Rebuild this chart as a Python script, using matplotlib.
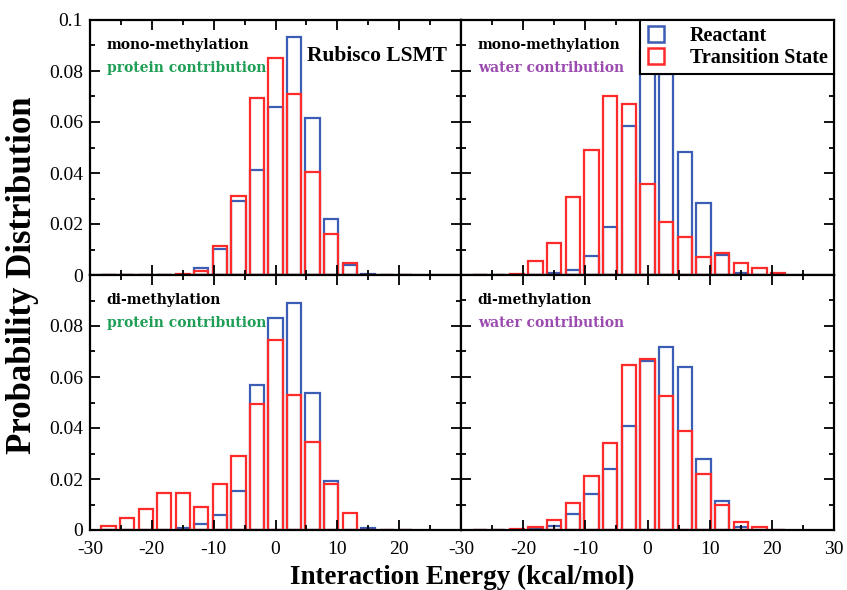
import numpy as np
import matplotlib
matplotlib.use('Agg')
import matplotlib.pyplot as plt
from matplotlib.ticker import MultipleLocator
from matplotlib.lines import Line2D

# bin centres (kcal/mol)
bins = np.arange(-27, 22, 3)

# probability per bin (same bins for all panels)
mono_prot_R  = [0, 0, 0, 0, 0, 0.0026, 0.0103, 0.029, 0.0412, 0.066, 0.0935, 0.0617, 0.0221, 0.0038, 0.0004, 0, 0]
mono_prot_TS = [0, 0, 0, 0, 0.0005, 0.0017, 0.0115, 0.0311, 0.0693, 0.085, 0.0709, 0.0404, 0.0161, 0.0046, 0, 0, 0]
mono_wat_R   = [0, 0, 0, 0, 0.0007, 0.002, 0.0075, 0.019, 0.0586, 0.088, 0.079, 0.0484, 0.0281, 0.0077, 0.0007, 0, 0]
mono_wat_TS  = [0, 0, 0.0005, 0.0056, 0.0127, 0.0307, 0.049, 0.0702, 0.0669, 0.0356, 0.0207, 0.015, 0.0072, 0.0088, 0.0046, 0.0026, 0.0007]
di_prot_R    = [0, 0, 0, 0, 0.0007, 0.0024, 0.0059, 0.0154, 0.0569, 0.0833, 0.0889, 0.0536, 0.0193, 0, 0.0007, 0, 0]
di_prot_TS   = [0.0016, 0.0046, 0.0081, 0.0144, 0.0144, 0.0092, 0.0179, 0.029, 0.0494, 0.0745, 0.0529, 0.0346, 0.0179, 0.0065, 0, 0, 0]
di_wat_R     = [0, 0, 0, 0.0008, 0.0017, 0.0063, 0.0141, 0.0239, 0.0409, 0.0661, 0.0716, 0.064, 0.0278, 0.0115, 0.0013, 0, 0]
di_wat_TS    = [0, 0, 0.0004, 0.0013, 0.0039, 0.0106, 0.0213, 0.034, 0.0648, 0.0671, 0.0524, 0.0387, 0.022, 0.0098, 0.003, 0.001, 0]

xticks_left = [-30, -20, -10, 0, 10, 20]
xticks_right = [-30, -20, -10, 0, 10, 20, 30]
yticks_top = [0, 0.02, 0.04, 0.06, 0.08, 0.1]
yticks_bot = [0, 0.02, 0.04, 0.06, 0.08]

blue = '#3c5db5'
red = '#ff2a2a'
green = '#1f9e55'
purple = '#9b4bb0'

plt.rcParams['font.family'] = ['Liberation Serif', 'DejaVu Serif']
plt.rcParams['axes.unicode_minus'] = False

fig = plt.figure(figsize=(8.47, 5.9), dpi=100)
L, M, R = 90/847, 461/847, 834/847
B, C, T = 1-530/590, 1-275/590, 1-20/590
axes = [[fig.add_axes([L, C, M-L, T-C]), fig.add_axes([M, C, R-M, T-C])],
        [fig.add_axes([L, B, M-L, C-B]), fig.add_axes([M, B, R-M, C-B])]]

panels = [[(mono_prot_R, mono_prot_TS, 'mono-methylation', 'protein contribution', green),
           (mono_wat_R, mono_wat_TS, 'mono-methylation', 'water contribution', purple)],
          [(di_prot_R, di_prot_TS, 'di-methylation', 'protein contribution', green),
           (di_wat_R, di_wat_TS, 'di-methylation', 'water contribution', purple)]]

for i in range(2):
    for j in range(2):
        ax = axes[i][j]
        rv, tv, t1, t2, col = panels[i][j]
        ax.bar(bins, rv, width=2.3, facecolor='none', edgecolor=blue, linewidth=1.6)
        ax.bar(bins, tv, width=2.3, facecolor='none', edgecolor=red, linewidth=1.6)
        ax.set_xlim(-30, 30)
        ax.set_ylim(0, 0.1)
        ax.xaxis.set_major_locator(MultipleLocator(10))
        ax.xaxis.set_minor_locator(MultipleLocator(5))
        ax.yaxis.set_major_locator(MultipleLocator(0.02))
        ax.yaxis.set_minor_locator(MultipleLocator(0.01))
        ax.tick_params(which='both', direction='in', top=True, right=True,
                       labelsize=14, width=1.3, pad=5)
        ax.tick_params(axis='x', pad=8)
        ax.tick_params(which='major', length=7)
        ax.tick_params(which='minor', length=3.5)
        for s in ax.spines.values():
            s.set_linewidth(1.6)
        if i == 0:
            ax.tick_params(labelbottom=False)
        else:
            xt = xticks_left if j == 0 else xticks_right
            ax.set_xticks(xt, minor=False)
            ax.set_xticklabels([str(v) for v in xt])
            ax.set_xticks(np.arange(-25, 30, 10), minor=True)
            # keep the tick mark at 30 on the left panel without its label
            if j == 0:
                ax.set_xticks(list(ax.get_xticks(minor=True)) + [30], minor=True)
        if j == 1:
            ax.tick_params(labelleft=False)
        else:
            yt = yticks_top if i == 0 else yticks_bot
            ax.set_yticks(yt)
            ax.set_yticklabels(['0'] + [('%g' % v) for v in yt[1:]])
            if i == 1:
                ax.set_yticks([0.01, 0.03, 0.05, 0.07, 0.09, 0.1], minor=True)
        ax.text(0.045, 0.902, t1, transform=ax.transAxes, fontsize=10,
                fontweight='bold', family='DejaVu Serif', color='black', va='center')
        ax.text(0.045, 0.812, t2, transform=ax.transAxes, fontsize=10,
                fontweight='bold', family='DejaVu Serif', color=col, va='center')

axes[0][0].text(0.585, 0.86, 'Rubisco LSMT', transform=axes[0][0].transAxes,
                fontsize=15.5, fontweight='bold', color='black', va='center')

handles = [Line2D([], [], marker='s', markersize=11, markerfacecolor='none',
                  markeredgecolor=blue, markeredgewidth=1.8, linestyle='none'),
           Line2D([], [], marker='s', markersize=11, markerfacecolor='none',
                  markeredgecolor=red, markeredgewidth=1.8, linestyle='none')]
leg = axes[0][1].legend(handles, ['Reactant', 'Transition State'], loc='upper right',
                        bbox_to_anchor=(1.0, 1.0), borderaxespad=0, fancybox=False,
                        framealpha=1, edgecolor='black', handletextpad=1.2,
                        handlelength=1.0, borderpad=0.3, labelspacing=0.1,
                        prop={'weight': 'bold', 'size': 14.5})
leg.get_frame().set_linewidth(1.5)

fig.text(0.026, (B+T)/2, 'Probability Distribution', rotation=90, ha='center',
         va='center', fontsize=25, fontweight='bold')
fig.text((L+R)/2, 0.022, 'Interaction Energy (kcal/mol)', ha='center',
         va='center', fontsize=19.5, fontweight='bold')

fig.savefig('out.png', dpi=100)
